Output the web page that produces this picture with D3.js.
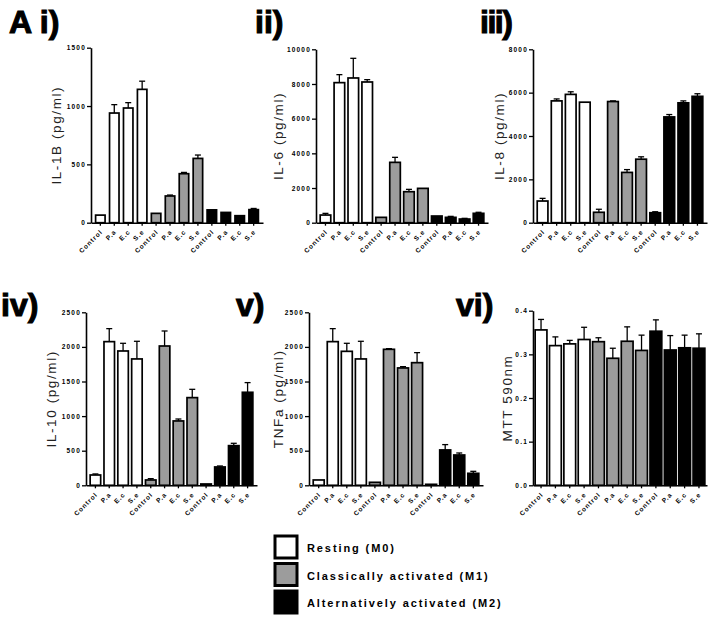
<!DOCTYPE html>
<html>
<head>
<meta charset="utf-8">
<script src="https://cdnjs.cloudflare.com/ajax/libs/d3/7.8.5/d3.min.js"></script>
<style>
  body { margin: 0; background: #fff; }
  text { font-family: "Liberation Sans", Arial, sans-serif; }
</style>
</head>
<body>
<div class="chart"></div>
<script>
// categories and groups
var categories = ["Control", "P.a", "E.c", "S.e"];
var groups = ["Resting (M0)", "Classically activated (M1)", "Alternatively activated (M2)"];
var groupFill = ["#ffffff", "#9c9c9c", "#000000"];

// means and SEM, 4 per group (M0, M1, M2)
var il1bMean = [65, 940, 983, 1143, 80, 229, 420, 551, 110, 88, 60, 112];
var il1bSem = [0, 72, 46, 70, 0, 8, 11, 29, 0, 0, 0, 10];

var il6Mean = [442, 8077, 8346, 8115, 308, 3480, 1788, 1980, 385, 308, 211, 540];
var il6Sem = [96, 461, 1134, 135, 0, 290, 135, 0, 0, 57, 40, 60];

var il8Mean = [1000, 5620, 5920, 5560, 480, 5590, 2320, 2930, 460, 4880, 5530, 5830];
var il8Sem = [123, 90, 120, 0, 140, 30, 130, 110, 45, 110, 90, 120];

var il10Mean = [149, 2076, 1941, 1826, 77, 2013, 930, 1267, 19, 265, 573, 1344];
var il10Sem = [15, 188, 111, 255, 19, 217, 28, 120, 0, 14, 34, 140];

var tnfMean = [77, 2076, 1936, 1826, 43, 1965, 1696, 1772, 14, 511, 438, 173];
var tnfSem = [0, 188, 116, 255, 0, 10, 19, 145, 0, 77, 29, 29];

var mttMean = [0.356, 0.320, 0.324, 0.334, 0.329, 0.291, 0.330, 0.309, 0.353, 0.310, 0.315, 0.314];
var mttSem = [0.024, 0.020, 0.008, 0.028, 0.009, 0.023, 0.033, 0.035, 0.026, 0.033, 0.029, 0.033];

// tick labels
var il1bTicks = [0, 500, 1000, 1500];
var il6Ticks = [0, 2000, 4000, 6000, 8000, 10000];
var il8Ticks = [0, 2000, 4000, 6000, 8000];
var il10Ticks = [0, 500, 1000, 1500, 2000, 2500];
var tnfTicks = [0, 500, 1000, 1500, 2000, 2500];
var mttTicks = [0, 0.1, 0.2, 0.3, 0.4];

var svgWidth = 708;
var svgHeight = 618;

var svg = d3.select(".chart")
  .append("svg")
  .attr("width", svgWidth)
  .attr("height", svgHeight);

var panels = [
  { title: "A i)", tx: 9, ty: 33, label: "IL-1B (pg/ml)", mean: il1bMean, sem: il1bSem, ticks: il1bTicks,
    fmt: d3.format("d"), x0: 91, x1: 263, top: 47.7, bottom: 222.7, inner: 0.32, outer: 0.33, lx: 56 },
  { title: "ii)", tx: 255, ty: 33, label: "IL-6 (pg/ml)", mean: il6Mean, sem: il6Sem, ticks: il6Ticks,
    fmt: d3.format("d"), x0: 316, x1: 488, top: 49.3, bottom: 222.7, inner: 0.24, outer: 0.3, lx: 278 },
  { title: "iii)", tx: 480, ty: 33, label: "IL-8 (pg/ml)", mean: il8Mean, sem: il8Sem, ticks: il8Ticks,
    fmt: d3.format("d"), x0: 533, x1: 707, top: 49.3, bottom: 222.7, inner: 0.24, outer: 0.3, lx: 499 },
  { title: "iv)", tx: 1, ty: 316, label: "IL-10 (pg/ml)", mean: il10Mean, sem: il10Sem, ticks: il10Ticks,
    fmt: d3.format("d"), x0: 86, x1: 257, top: 312.3, bottom: 485.3, inner: 0.24, outer: 0.3, lx: 51 },
  { title: "v)", tx: 236, ty: 316, label: "TNFa (pg/ml)", mean: tnfMean, sem: tnfSem, ticks: tnfTicks,
    fmt: d3.format("d"), x0: 309, x1: 483, top: 312.3, bottom: 485.3, inner: 0.22, outer: 0.3, lx: 278 },
  { title: "vi)", tx: 456, ty: 316, label: "MTT 590nm", mean: mttMean, sem: mttSem, ticks: mttTicks,
    fmt: d3.format(".1f"), x0: 533, x1: 707, top: 310.7, bottom: 485.3, inner: 0.18, outer: 0.15, lx: 507 }
];

panels.forEach(function(p) {
  var rows = p.mean.map(function(m, i) {
    return { key: i, group: Math.floor(i / 4), cat: categories[i % 4], mean: m, sem: p.sem[i] };
  });

  var xScale = d3.scaleBand()
    .domain(rows.map(d => d.key))
    .range([p.x0, p.x1])
    .paddingInner(p.inner)
    .paddingOuter(p.outer);

  var yScale = d3.scaleLinear()
    .domain([0, p.ticks[p.ticks.length - 1]])
    .range([p.bottom, p.top]);

  var g = svg.append("g");

  // panel title
  svg.append("text")
    .attr("x", p.tx)
    .attr("y", p.ty)
    .attr("font-size", "32px")
    .attr("font-weight", "bold")
    .attr("stroke", "black")
    .attr("stroke-width", 1.1)
    .attr("letter-spacing", p.title == "iii)" ? "-1.5px" : "0px")
    .text(p.title);

  // error bars
  var errs = g.selectAll(".err").data(rows.filter(d => d.sem > 0)).enter().append("g");
  errs.append("line")
    .attr("x1", d => xScale(d.key) + xScale.bandwidth() / 2)
    .attr("x2", d => xScale(d.key) + xScale.bandwidth() / 2)
    .attr("y1", d => yScale(d.mean))
    .attr("y2", d => yScale(d.mean + d.sem))
    .attr("stroke", "black")
    .attr("stroke-width", 1.3);
  errs.append("line")
    .attr("x1", d => xScale(d.key) + xScale.bandwidth() / 2 - 3)
    .attr("x2", d => xScale(d.key) + xScale.bandwidth() / 2 + 3)
    .attr("y1", d => yScale(d.mean + d.sem))
    .attr("y2", d => yScale(d.mean + d.sem))
    .attr("stroke", "black")
    .attr("stroke-width", 1.3);

  // bars
  g.selectAll(".bar").data(rows).enter().append("rect")
    .attr("x", d => xScale(d.key))
    .attr("y", d => yScale(d.mean))
    .attr("width", xScale.bandwidth())
    .attr("height", d => p.bottom - yScale(d.mean))
    .attr("fill", d => groupFill[d.group])
    .attr("stroke", "black")
    .attr("stroke-width", 1.7);

  // axes
  var leftAxis = d3.axisLeft(yScale).tickValues(p.ticks).tickFormat(p.fmt).tickSize(4).tickSizeOuter(0);
  var bottomAxis = d3.axisBottom(xScale).tickSize(3).tickSizeOuter(0).tickFormat(d => rows[d].cat);

  var ya = g.append("g")
    .attr("transform", `translate(${p.x0}, 0)`)
    .call(leftAxis);
  ya.selectAll("text")
    .attr("font-size", "6.5px")
    .attr("font-weight", "bold")
    .attr("letter-spacing", "1.2px")
    .attr("font-family", "Liberation Sans, Arial, sans-serif")
    .attr("x", -5);

  var xa = g.append("g")
    .attr("transform", `translate(0, ${p.bottom})`)
    .call(bottomAxis);
  xa.selectAll("text")
    .attr("font-size", "6.5px")
    .attr("font-weight", "bold")
    .attr("letter-spacing", "1px")
    .attr("font-family", "Liberation Sans, Arial, sans-serif")
    .attr("text-anchor", "end")
    .attr("x", 0)
    .attr("y", 0)
    .attr("dy", "0.35em")
    .attr("transform", "translate(1, 8) rotate(-45)");

  g.selectAll(".domain").attr("stroke-width", 1.6);
  g.selectAll(".tick line").attr("stroke-width", 1.3);

  // y axis title
  g.append("text")
    .attr("transform", `translate(${p.lx}, ${(p.top + p.bottom) / 2}) rotate(-90)`)
    .attr("text-anchor", "middle")
    .attr("dy", "0.35em")
    .attr("font-size", "13.5px")
    .attr("letter-spacing", "1.6px")
    .attr("fill", "#222")
    .text(p.label);
});

// legend
var legend = svg.selectAll(".legend").data(groups).enter().append("g")
  .attr("transform", (d, i) => `translate(275, ${536 + i * 27.5})`);
legend.append("rect")
  .attr("width", 22)
  .attr("height", 22)
  .attr("fill", (d, i) => groupFill[i])
  .attr("stroke", "black")
  .attr("stroke-width", 3);
legend.append("text")
  .attr("x", 32)
  .attr("y", 16)
  .attr("font-size", "11px")
  .attr("font-weight", "bold")
  .attr("letter-spacing", "1.9px")
  .text(d => d);
</script>
</body>
</html>
